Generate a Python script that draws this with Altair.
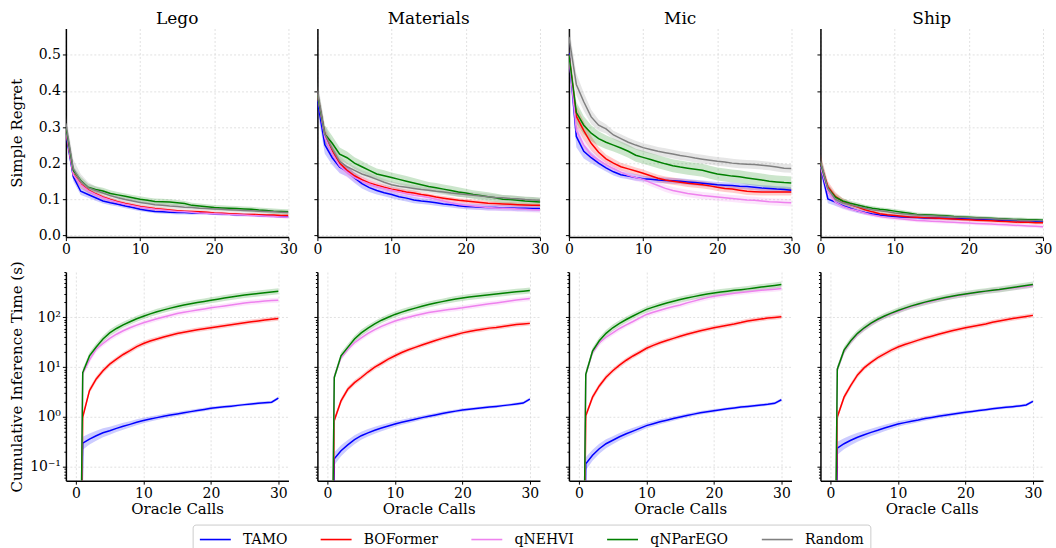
import altair as alt
import pandas as pd

METHODS = ["TAMO", "BOFormer", "qNEHVI", "qNParEGO", "Random"]
COLORS = ["#0000ff", "#ff0000", "#ee82ee", "#008000", "#808080"]
DATASETS = ["Lego", "Materials", "Mic", "Ship"]
CALLS = list(range(31))
X_TICKS = [0, 10, 20, 30]
REGRET_TICKS = [0.0, 0.1, 0.2, 0.3, 0.4, 0.5]
TIME_MAJOR = [0.1, 1, 10, 100]
TIME_MINOR = [0.06, 0.07, 0.08, 0.09, 0.2, 0.3, 0.4, 0.5, 0.6, 0.7, 0.8, 0.9,
              2, 3, 4, 5, 6, 7, 8, 9, 20, 30, 40, 50, 60, 70, 80, 90,
              200, 300, 400, 500, 600, 700, 800]

LEGO_TAMO = [0.284, 0.162, 0.122, 0.113, 0.104, 0.095, 0.090, 0.086, 0.081, 0.077, 0.072, 0.069, 0.066, 0.065, 0.064, 0.063, 0.063, 0.062, 0.062, 0.061, 0.060, 0.059, 0.058, 0.057, 0.057, 0.056, 0.055, 0.054, 0.053, 0.052, 0.051]
LEGO_BOFORMER = [0.290, 0.170, 0.142, 0.126, 0.115, 0.106, 0.099, 0.093, 0.088, 0.084, 0.080, 0.077, 0.074, 0.072, 0.070, 0.068, 0.067, 0.066, 0.065, 0.064, 0.062, 0.061, 0.060, 0.059, 0.058, 0.058, 0.057, 0.056, 0.056, 0.055, 0.055]
LEGO_QNEHVI = [0.292, 0.168, 0.140, 0.124, 0.113, 0.104, 0.097, 0.091, 0.086, 0.082, 0.078, 0.075, 0.072, 0.070, 0.068, 0.066, 0.065, 0.064, 0.062, 0.061, 0.060, 0.059, 0.058, 0.057, 0.056, 0.055, 0.054, 0.053, 0.052, 0.051, 0.050]
LEGO_QNPAREGO = [0.300, 0.180, 0.152, 0.133, 0.127, 0.123, 0.116, 0.112, 0.108, 0.104, 0.100, 0.097, 0.094, 0.093, 0.092, 0.090, 0.088, 0.083, 0.081, 0.079, 0.077, 0.076, 0.075, 0.074, 0.073, 0.072, 0.070, 0.069, 0.067, 0.066, 0.065]
LEGO_RANDOM = [0.310, 0.185, 0.150, 0.132, 0.124, 0.117, 0.110, 0.104, 0.099, 0.095, 0.091, 0.088, 0.085, 0.083, 0.081, 0.080, 0.078, 0.077, 0.075, 0.074, 0.073, 0.072, 0.071, 0.070, 0.069, 0.068, 0.067, 0.066, 0.065, 0.064, 0.063]
LEGO_TAMO_SD = [0.020, 0.012, 0.010, 0.009, 0.008, 0.007, 0.007, 0.006, 0.006, 0.006, 0.005, 0.005, 0.005, 0.005, 0.005, 0.005, 0.005, 0.005, 0.004, 0.004, 0.004, 0.004, 0.004, 0.004, 0.004, 0.004, 0.004, 0.004, 0.004, 0.004, 0.004]
LEGO_BOFORMER_SD = [0.015, 0.012, 0.010, 0.008, 0.007, 0.006, 0.006, 0.005, 0.005, 0.005, 0.005, 0.005, 0.005, 0.005, 0.004, 0.004, 0.004, 0.004, 0.004, 0.004, 0.004, 0.004, 0.004, 0.004, 0.004, 0.004, 0.004, 0.004, 0.004, 0.004, 0.004]
LEGO_QNEHVI_SD = [0.015, 0.012, 0.010, 0.008, 0.007, 0.006, 0.006, 0.005, 0.005, 0.005, 0.005, 0.005, 0.005, 0.005, 0.004, 0.004, 0.004, 0.004, 0.004, 0.004, 0.004, 0.004, 0.004, 0.004, 0.004, 0.004, 0.004, 0.004, 0.004, 0.004, 0.004]
LEGO_QNPAREGO_SD = [0.015, 0.012, 0.010, 0.010, 0.009, 0.009, 0.009, 0.008, 0.008, 0.008, 0.008, 0.008, 0.008, 0.008, 0.008, 0.008, 0.007, 0.007, 0.007, 0.007, 0.007, 0.007, 0.007, 0.007, 0.007, 0.007, 0.007, 0.007, 0.007, 0.007, 0.007]
LEGO_RANDOM_SD = [0.025, 0.025, 0.020, 0.015, 0.012, 0.010, 0.009, 0.008, 0.008, 0.008, 0.007, 0.007, 0.007, 0.007, 0.007, 0.007, 0.006, 0.006, 0.006, 0.006, 0.006, 0.006, 0.006, 0.006, 0.006, 0.006, 0.006, 0.006, 0.006, 0.006, 0.006]

MAT_TAMO = [0.373, 0.251, 0.215, 0.189, 0.178, 0.159, 0.143, 0.132, 0.124, 0.118, 0.113, 0.107, 0.103, 0.098, 0.095, 0.093, 0.090, 0.087, 0.085, 0.082, 0.080, 0.079, 0.078, 0.077, 0.077, 0.076, 0.076, 0.075, 0.075, 0.074, 0.074]
MAT_BOFORMER = [0.390, 0.280, 0.235, 0.200, 0.180, 0.165, 0.154, 0.145, 0.139, 0.133, 0.128, 0.124, 0.120, 0.117, 0.113, 0.110, 0.106, 0.103, 0.100, 0.097, 0.095, 0.093, 0.091, 0.089, 0.088, 0.087, 0.086, 0.085, 0.084, 0.083, 0.083]
MAT_QNEHVI = [0.390, 0.270, 0.225, 0.192, 0.175, 0.160, 0.150, 0.142, 0.135, 0.130, 0.125, 0.120, 0.115, 0.111, 0.108, 0.105, 0.100, 0.095, 0.090, 0.086, 0.083, 0.081, 0.079, 0.077, 0.076, 0.075, 0.074, 0.073, 0.072, 0.071, 0.070]
MAT_QNPAREGO = [0.390, 0.280, 0.255, 0.225, 0.215, 0.200, 0.190, 0.180, 0.170, 0.165, 0.160, 0.155, 0.150, 0.145, 0.140, 0.135, 0.132, 0.128, 0.124, 0.120, 0.117, 0.113, 0.110, 0.107, 0.104, 0.100, 0.099, 0.097, 0.095, 0.094, 0.092]
MAT_RANDOM = [0.400, 0.280, 0.240, 0.205, 0.190, 0.180, 0.170, 0.163, 0.155, 0.147, 0.140, 0.136, 0.133, 0.130, 0.127, 0.125, 0.122, 0.120, 0.117, 0.115, 0.113, 0.111, 0.109, 0.107, 0.105, 0.104, 0.102, 0.101, 0.099, 0.098, 0.097]
MAT_TAMO_SD = [0.030, 0.025, 0.020, 0.017, 0.015, 0.014, 0.013, 0.012, 0.011, 0.010, 0.010, 0.009, 0.009, 0.009, 0.008, 0.008, 0.008, 0.008, 0.008, 0.008, 0.008, 0.008, 0.008, 0.008, 0.008, 0.008, 0.008, 0.008, 0.008, 0.008, 0.008]
MAT_BOFORMER_SD = [0.020, 0.018, 0.015, 0.012, 0.010, 0.009, 0.008, 0.008, 0.007, 0.007, 0.007, 0.007, 0.007, 0.007, 0.006, 0.006, 0.006, 0.006, 0.006, 0.006, 0.006, 0.006, 0.006, 0.006, 0.006, 0.006, 0.006, 0.006, 0.006, 0.006, 0.006]
MAT_QNEHVI_SD = [0.030, 0.025, 0.020, 0.017, 0.015, 0.013, 0.012, 0.011, 0.010, 0.010, 0.009, 0.009, 0.009, 0.009, 0.008, 0.008, 0.008, 0.008, 0.008, 0.008, 0.008, 0.008, 0.008, 0.008, 0.008, 0.008, 0.008, 0.008, 0.008, 0.008, 0.008]
MAT_QNPAREGO_SD = [0.030, 0.025, 0.020, 0.018, 0.017, 0.016, 0.016, 0.015, 0.015, 0.015, 0.014, 0.014, 0.014, 0.014, 0.013, 0.013, 0.013, 0.013, 0.013, 0.013, 0.012, 0.012, 0.012, 0.012, 0.012, 0.012, 0.012, 0.012, 0.012, 0.012, 0.012]
MAT_RANDOM_SD = [0.030, 0.025, 0.020, 0.015, 0.012, 0.011, 0.010, 0.010, 0.009, 0.009, 0.009, 0.009, 0.009, 0.009, 0.008, 0.008, 0.008, 0.008, 0.008, 0.008, 0.008, 0.008, 0.008, 0.008, 0.008, 0.008, 0.008, 0.008, 0.008, 0.008, 0.008]

MIC_TAMO = [0.505, 0.274, 0.233, 0.215, 0.200, 0.187, 0.176, 0.168, 0.164, 0.160, 0.157, 0.155, 0.153, 0.152, 0.151, 0.150, 0.148, 0.146, 0.144, 0.142, 0.140, 0.139, 0.138, 0.136, 0.135, 0.133, 0.131, 0.130, 0.128, 0.127, 0.125]
MIC_BOFORMER = [0.500, 0.330, 0.290, 0.255, 0.230, 0.212, 0.200, 0.190, 0.184, 0.178, 0.172, 0.165, 0.158, 0.153, 0.150, 0.147, 0.144, 0.142, 0.140, 0.137, 0.133, 0.130, 0.128, 0.125, 0.122, 0.121, 0.120, 0.120, 0.120, 0.120, 0.120]
MIC_QNEHVI = [0.500, 0.290, 0.250, 0.222, 0.208, 0.196, 0.185, 0.175, 0.166, 0.160, 0.155, 0.146, 0.138, 0.130, 0.124, 0.120, 0.116, 0.113, 0.110, 0.108, 0.106, 0.104, 0.102, 0.100, 0.098, 0.097, 0.095, 0.093, 0.092, 0.091, 0.090]
MIC_QNPAREGO = [0.500, 0.340, 0.305, 0.283, 0.268, 0.258, 0.250, 0.242, 0.233, 0.222, 0.216, 0.210, 0.204, 0.198, 0.193, 0.189, 0.186, 0.183, 0.180, 0.175, 0.170, 0.167, 0.164, 0.162, 0.159, 0.156, 0.153, 0.150, 0.148, 0.146, 0.145]
MIC_RANDOM = [0.550, 0.418, 0.370, 0.328, 0.305, 0.295, 0.278, 0.268, 0.258, 0.250, 0.243, 0.238, 0.233, 0.229, 0.225, 0.221, 0.218, 0.214, 0.211, 0.208, 0.205, 0.203, 0.200, 0.198, 0.197, 0.196, 0.194, 0.192, 0.189, 0.186, 0.185]
MIC_TAMO_SD = [0.040, 0.030, 0.020, 0.015, 0.012, 0.010, 0.010, 0.009, 0.009, 0.009, 0.008, 0.008, 0.008, 0.008, 0.008, 0.008, 0.008, 0.008, 0.008, 0.008, 0.008, 0.008, 0.008, 0.008, 0.008, 0.008, 0.008, 0.008, 0.008, 0.008, 0.008]
MIC_BOFORMER_SD = [0.030, 0.030, 0.025, 0.020, 0.015, 0.012, 0.012, 0.011, 0.011, 0.010, 0.010, 0.010, 0.010, 0.010, 0.010, 0.010, 0.010, 0.010, 0.010, 0.010, 0.010, 0.010, 0.010, 0.010, 0.010, 0.010, 0.010, 0.010, 0.010, 0.010, 0.010]
MIC_QNEHVI_SD = [0.020, 0.020, 0.018, 0.015, 0.013, 0.012, 0.011, 0.010, 0.010, 0.010, 0.010, 0.010, 0.010, 0.010, 0.010, 0.010, 0.010, 0.010, 0.010, 0.010, 0.010, 0.010, 0.010, 0.010, 0.010, 0.010, 0.010, 0.010, 0.010, 0.010, 0.010]
MIC_QNPAREGO_SD = [0.030, 0.030, 0.025, 0.022, 0.020, 0.019, 0.018, 0.018, 0.018, 0.018, 0.018, 0.018, 0.018, 0.018, 0.018, 0.018, 0.018, 0.018, 0.018, 0.018, 0.018, 0.018, 0.018, 0.018, 0.018, 0.018, 0.018, 0.018, 0.018, 0.018, 0.018]
MIC_RANDOM_SD = [0.030, 0.030, 0.025, 0.020, 0.015, 0.013, 0.012, 0.012, 0.012, 0.012, 0.012, 0.012, 0.012, 0.012, 0.012, 0.012, 0.012, 0.012, 0.012, 0.012, 0.012, 0.012, 0.012, 0.012, 0.012, 0.012, 0.012, 0.012, 0.012, 0.012, 0.012]

SHIP_TAMO = [0.192, 0.101, 0.092, 0.082, 0.075, 0.068, 0.063, 0.059, 0.056, 0.054, 0.052, 0.051, 0.050, 0.049, 0.048, 0.048, 0.047, 0.047, 0.046, 0.046, 0.045, 0.044, 0.044, 0.043, 0.042, 0.042, 0.041, 0.040, 0.040, 0.039, 0.039]
SHIP_BOFORMER = [0.200, 0.135, 0.108, 0.094, 0.085, 0.078, 0.071, 0.065, 0.060, 0.057, 0.055, 0.053, 0.051, 0.050, 0.049, 0.048, 0.047, 0.046, 0.045, 0.044, 0.043, 0.042, 0.041, 0.040, 0.039, 0.038, 0.037, 0.036, 0.036, 0.035, 0.035]
SHIP_QNEHVI = [0.190, 0.120, 0.092, 0.080, 0.073, 0.068, 0.062, 0.056, 0.052, 0.049, 0.047, 0.045, 0.043, 0.041, 0.040, 0.039, 0.038, 0.037, 0.036, 0.035, 0.034, 0.033, 0.032, 0.031, 0.030, 0.029, 0.028, 0.027, 0.026, 0.025, 0.024]
SHIP_QNPAREGO = [0.200, 0.130, 0.106, 0.095, 0.089, 0.084, 0.079, 0.075, 0.072, 0.070, 0.067, 0.064, 0.061, 0.058, 0.057, 0.056, 0.055, 0.054, 0.052, 0.051, 0.050, 0.049, 0.048, 0.047, 0.046, 0.045, 0.044, 0.044, 0.043, 0.043, 0.042]
SHIP_RANDOM = [0.205, 0.130, 0.100, 0.090, 0.085, 0.080, 0.075, 0.071, 0.068, 0.065, 0.062, 0.060, 0.058, 0.056, 0.055, 0.054, 0.053, 0.052, 0.051, 0.050, 0.049, 0.048, 0.047, 0.046, 0.045, 0.044, 0.043, 0.042, 0.041, 0.041, 0.040]
SHIP_TAMO_SD = [0.020, 0.012, 0.010, 0.008, 0.007, 0.006, 0.006, 0.005, 0.005, 0.005, 0.005, 0.005, 0.005, 0.005, 0.005, 0.005, 0.005, 0.005, 0.005, 0.005, 0.005, 0.005, 0.005, 0.005, 0.005, 0.005, 0.005, 0.005, 0.005, 0.005, 0.005]
SHIP_BOFORMER_SD = [0.025, 0.015, 0.012, 0.009, 0.008, 0.007, 0.006, 0.005, 0.005, 0.005, 0.005, 0.005, 0.005, 0.005, 0.005, 0.005, 0.005, 0.005, 0.005, 0.005, 0.005, 0.005, 0.005, 0.005, 0.005, 0.005, 0.005, 0.005, 0.005, 0.005, 0.005]
SHIP_QNEHVI_SD = [0.020, 0.012, 0.010, 0.008, 0.007, 0.006, 0.006, 0.005, 0.005, 0.005, 0.005, 0.005, 0.005, 0.005, 0.005, 0.005, 0.005, 0.005, 0.005, 0.005, 0.005, 0.005, 0.005, 0.005, 0.005, 0.005, 0.005, 0.005, 0.005, 0.005, 0.005]
SHIP_QNPAREGO_SD = [0.020, 0.012, 0.010, 0.008, 0.007, 0.007, 0.006, 0.006, 0.006, 0.006, 0.006, 0.006, 0.006, 0.005, 0.005, 0.005, 0.005, 0.005, 0.005, 0.005, 0.005, 0.005, 0.005, 0.005, 0.005, 0.005, 0.005, 0.005, 0.005, 0.005, 0.005]
SHIP_RANDOM_SD = [0.020, 0.012, 0.010, 0.008, 0.007, 0.006, 0.006, 0.005, 0.005, 0.005, 0.005, 0.005, 0.005, 0.005, 0.005, 0.005, 0.005, 0.005, 0.005, 0.005, 0.005, 0.005, 0.005, 0.005, 0.005, 0.005, 0.005, 0.005, 0.005, 0.005, 0.005]

LEGO_T_TAMO = [0, 0.297, 0.36, 0.42, 0.48, 0.53, 0.59, 0.65, 0.71, 0.78, 0.85, 0.91, 0.97, 1.03, 1.09, 1.15, 1.22, 1.28, 1.35, 1.42, 1.49, 1.55, 1.60, 1.65, 1.71, 1.77, 1.83, 1.88, 1.93, 1.98, 2.40]
LEGO_T_BOFORMER = [0, 1.0, 3.4, 5.8, 8.5, 11.5, 14.5, 18, 21.5, 26, 30, 33.5, 37, 40.5, 44, 47.5, 50.5, 53.5, 56.5, 59, 62, 65, 68, 71, 74.5, 78, 81.5, 85, 88.5, 92, 95]
LEGO_T_QNEHVI = [0, 7.5, 14, 23, 30, 38, 46, 54, 62, 70, 78, 86, 94, 102, 111, 120, 127, 134, 141, 148, 156, 163, 170, 178, 186, 195, 201, 207, 213, 218, 222]
LEGO_T_QNPAREGO = [0, 7.8, 16.9, 25.5, 37, 49, 60, 71, 82, 94, 106, 118, 130, 142, 154, 166, 177, 188, 199, 210, 221, 233, 245, 257, 269, 281, 292, 303, 314, 325, 336]

MAT_T_TAMO = [0, 0.145, 0.21, 0.275, 0.35, 0.42, 0.48, 0.54, 0.60, 0.66, 0.72, 0.78, 0.84, 0.90, 0.97, 1.03, 1.10, 1.17, 1.24, 1.31, 1.38, 1.43, 1.48, 1.53, 1.58, 1.63, 1.69, 1.75, 1.82, 1.90, 2.29]
MAT_T_BOFORMER = [0, 0.85, 2.1, 3.6, 4.9, 6.2, 8.0, 10.0, 12.0, 14.5, 17.0, 19.7, 22.4, 25.0, 28.0, 31.0, 34.5, 38.0, 41.5, 45.0, 49.0, 52, 55, 58, 61, 63, 66, 69, 72, 74, 76]
MAT_T_QNEHVI = [0, 6.5, 15.6, 23, 31, 39, 48, 57, 66, 75, 85, 93, 101, 109, 117, 126, 132, 138, 144, 150, 156, 164, 172, 180, 188, 196, 205, 214, 223, 232, 240]
MAT_T_QNPAREGO = [0, 6.2, 17, 25, 37, 49, 61, 74, 88, 101, 115, 128, 141, 154, 168, 182, 195, 208, 221, 234, 247, 257, 267, 276, 285, 295, 306, 317, 327, 337, 347]

MIC_T_TAMO = [0, 0.115, 0.17, 0.23, 0.29, 0.34, 0.40, 0.46, 0.52, 0.59, 0.67, 0.73, 0.80, 0.86, 0.93, 1.0, 1.07, 1.14, 1.21, 1.27, 1.34, 1.40, 1.46, 1.52, 1.58, 1.63, 1.68, 1.74, 1.80, 1.88, 2.22]
MIC_T_BOFORMER = [0, 1.06, 2.5, 4.2, 6.3, 8.5, 11.0, 13.8, 16.8, 20, 24, 27.5, 31, 34.5, 38, 42, 46, 50, 54, 58, 62, 66, 70, 74, 79, 85, 89, 93, 97, 100, 103]
MIC_T_QNEHVI = [0, 7.2, 20, 31, 40, 49, 60, 71, 83, 98, 115, 127, 140, 153, 166, 178, 196, 213, 232, 250, 267, 280, 293, 306, 318, 330, 340, 350, 360, 370, 380]
MIC_T_QNPAREGO = [0, 7.2, 21, 34, 48, 62, 76, 91, 107, 125, 145, 161, 178, 195, 212, 229, 246, 262, 279, 295, 311, 324, 337, 350, 362, 375, 391, 407, 423, 440, 457]

SHIP_T_TAMO = [0, 0.236, 0.29, 0.34, 0.39, 0.44, 0.49, 0.54, 0.60, 0.66, 0.72, 0.77, 0.82, 0.87, 0.93, 0.98, 1.03, 1.08, 1.13, 1.19, 1.24, 1.29, 1.35, 1.40, 1.46, 1.51, 1.56, 1.61, 1.67, 1.74, 2.06]
SHIP_T_BOFORMER = [0, 1.0, 2.5, 4.3, 7.0, 9.8, 12.5, 15.6, 18.5, 22, 25.5, 28.5, 31.5, 35, 38.5, 42, 46, 50, 54, 58, 62, 66, 70, 74, 80, 85, 90, 95, 100, 105, 110]
SHIP_T_QNEHVI = [0, 9.1, 21, 33, 46, 60, 74, 89, 104, 118, 133, 149, 165, 181, 197, 212, 228, 244, 260, 275, 290, 305, 320, 334, 348, 360, 375, 390, 405, 420, 436]
SHIP_T_QNPAREGO = [0, 9.1, 22, 34, 48, 62, 77, 92, 107, 122, 138, 154, 171, 187, 203, 219, 235, 251, 267, 282, 297, 311, 325, 338, 351, 363, 381, 400, 419, 438, 457]

T_TAMO_SD = [0, 0.13, 0.11, 0.10, 0.09, 0.08, 0.075, 0.07, 0.065, 0.06, 0.055, 0.05, 0.05, 0.045, 0.045, 0.04, 0.04, 0.04, 0.035, 0.035, 0.035, 0.03, 0.03, 0.03, 0.03, 0.03, 0.03, 0.03, 0.03, 0.03, 0.03]
T_BOFORMER_SD = [0, 0.06, 0.06, 0.055, 0.055, 0.05, 0.05, 0.05, 0.05, 0.05, 0.05, 0.05, 0.045, 0.045, 0.045, 0.045, 0.045, 0.045, 0.045, 0.045, 0.045, 0.045, 0.045, 0.045, 0.045, 0.045, 0.045, 0.045, 0.045, 0.045, 0.045]
T_QNEHVI_SD = [0, 0.06, 0.06, 0.06, 0.055, 0.055, 0.055, 0.05, 0.05, 0.05, 0.05, 0.05, 0.05, 0.05, 0.05, 0.05, 0.05, 0.05, 0.05, 0.05, 0.05, 0.05, 0.05, 0.05, 0.05, 0.05, 0.05, 0.05, 0.05, 0.05, 0.05]
T_QNPAREGO_SD = [0, 0.07, 0.07, 0.07, 0.065, 0.065, 0.065, 0.06, 0.06, 0.06, 0.06, 0.06, 0.06, 0.06, 0.06, 0.06, 0.06, 0.06, 0.06, 0.06, 0.06, 0.06, 0.06, 0.06, 0.06, 0.06, 0.06, 0.06, 0.06, 0.06, 0.06]

REGRET = {
    "Lego": [(LEGO_TAMO, LEGO_TAMO_SD), (LEGO_BOFORMER, LEGO_BOFORMER_SD), (LEGO_QNEHVI, LEGO_QNEHVI_SD), (LEGO_QNPAREGO, LEGO_QNPAREGO_SD), (LEGO_RANDOM, LEGO_RANDOM_SD)],
    "Materials": [(MAT_TAMO, MAT_TAMO_SD), (MAT_BOFORMER, MAT_BOFORMER_SD), (MAT_QNEHVI, MAT_QNEHVI_SD), (MAT_QNPAREGO, MAT_QNPAREGO_SD), (MAT_RANDOM, MAT_RANDOM_SD)],
    "Mic": [(MIC_TAMO, MIC_TAMO_SD), (MIC_BOFORMER, MIC_BOFORMER_SD), (MIC_QNEHVI, MIC_QNEHVI_SD), (MIC_QNPAREGO, MIC_QNPAREGO_SD), (MIC_RANDOM, MIC_RANDOM_SD)],
    "Ship": [(SHIP_TAMO, SHIP_TAMO_SD), (SHIP_BOFORMER, SHIP_BOFORMER_SD), (SHIP_QNEHVI, SHIP_QNEHVI_SD), (SHIP_QNPAREGO, SHIP_QNPAREGO_SD), (SHIP_RANDOM, SHIP_RANDOM_SD)],
}
TIME_SD = [T_TAMO_SD, T_BOFORMER_SD, T_QNEHVI_SD, T_QNPAREGO_SD]
TIME = {
    "Lego": [LEGO_T_TAMO, LEGO_T_BOFORMER, LEGO_T_QNEHVI, LEGO_T_QNPAREGO],
    "Materials": [MAT_T_TAMO, MAT_T_BOFORMER, MAT_T_QNEHVI, MAT_T_QNPAREGO],
    "Mic": [MIC_T_TAMO, MIC_T_BOFORMER, MIC_T_QNEHVI, MIC_T_QNPAREGO],
    "Ship": [SHIP_T_TAMO, SHIP_T_BOFORMER, SHIP_T_QNEHVI, SHIP_T_QNPAREGO],
}

FLOOR = 1e-12  # non-positive values are clipped on the log axis (as matplotlib does)

FONT = "DejaVu Serif"
PANEL_W, PANEL_H = 223, 209
MAJOR_TEST = "indexof([0.1, 1, 10, 100], datum.value) >= 0"

color_scale = alt.Scale(domain=METHODS, range=COLORS)
# same mapping, listed in reverse so that the (hidden) band legend is not merged with the line legend
fill_scale = alt.Scale(domain=METHODS[::-1], range=COLORS[::-1])
legend = alt.Legend(
    orient="none", legendX=127, legendY=497, direction="horizontal",
    symbolType="M-1,0H3", symbolSize=240, symbolStrokeWidth=1.6, labelOffset=26.5,
    columnPadding=30, padding=6, strokeColor="#cccccc", cornerRadius=3, fillColor="white",
    labelFont=FONT, labelFontSize=14, labelColor="black",
)


def regret_panel(ds, first):
    rows = []
    for m, (vals, sds) in zip(METHODS, REGRET[ds]):
        for x, v, s in zip(CALLS, vals, sds):
            rows.append({"method": m, "x": x, "y": v, "lo": v - s, "hi": v + s})
    df = pd.DataFrame(rows)
    xenc = alt.X("x:Q", scale=alt.Scale(domain=[0, 30], nice=False, zero=False),
                 axis=alt.Axis(values=X_TICKS, title="", labelFlush=False, format="d"))
    yscale = alt.Scale(domain=[-0.005, 0.573], nice=False, zero=False)
    yaxis = alt.Axis(values=REGRET_TICKS, format=".1f", labels=first, labelFlush=False,
                     title="Simple Regret" if first else "", titleX=-44.5,
                     titleBaseline="alphabetic")
    band = alt.Chart(df).mark_area(opacity=0.2, clip=True).encode(
        x=xenc, y=alt.Y("lo:Q", scale=yscale, axis=yaxis), y2="hi:Q",
        fill=alt.Fill("method:N", scale=fill_scale, legend=None),
    )
    line = alt.Chart(df).mark_line(strokeWidth=1.5, clip=True).encode(
        x=xenc, y=alt.Y("y:Q", scale=yscale, axis=yaxis),
        color=alt.Color("method:N", scale=color_scale, legend=legend, sort=METHODS, title=""),
    )
    return alt.layer(band, line).properties(
        width=PANEL_W, height=PANEL_H,
        title=alt.TitleParams(ds, font=FONT, fontSize=17, fontWeight="normal", color="black",
                              offset=1, anchor="middle"),
    )


def time_panel(ds, first):
    rows = []
    for m, vals, sds in zip(METHODS[:4], TIME[ds], TIME_SD):
        for x, v, s in zip(CALLS, vals, sds):
            v = max(v, FLOOR)
            rows.append({"method": m, "x": x, "y": v, "lo": max(v / 10 ** s, FLOOR), "hi": max(v * 10 ** s, FLOOR)})
    df = pd.DataFrame(rows)
    xenc = alt.X("x:Q", scale=alt.Scale(domain=[-1.5, 31.5], nice=False, zero=False),
                 axis=alt.Axis(values=X_TICKS, title="Oracle Calls", labelFlush=False, format="d",
                               titlePadding=1))
    yscale = alt.Scale(type="log", domain=[0.0525, 817], nice=False)
    label_expr = ("datum.value == 0.1 ? '10\u207b\u00b9' : datum.value == 1 ? '10\u2070' : "
                  "datum.value == 10 ? '10\u00b9' : datum.value == 100 ? '10\u00b2' : ''")
    yaxis = alt.Axis(values=TIME_MAJOR + TIME_MINOR, labelExpr=label_expr, labels=first,
                     labelOverlap=False, labelFlush=False,
                     tickSize={"condition": {"test": MAJOR_TEST, "value": 3.5}, "value": 2},
                     gridOpacity={"condition": {"test": MAJOR_TEST, "value": 1}, "value": 0},
                     title="Cumulative Inference Time (s)" if first else "", titleX=-44.5,
                     titleBaseline="alphabetic")
    band = alt.Chart(df).mark_area(opacity=0.2, clip=True).encode(
        x=xenc, y=alt.Y("lo:Q", scale=yscale, axis=yaxis), y2="hi:Q",
        fill=alt.Fill("method:N", scale=fill_scale, legend=None),
    )
    line = alt.Chart(df).mark_line(strokeWidth=1.5, clip=True).encode(
        x=xenc, y=alt.Y("y:Q", scale=yscale, axis=yaxis),
        color=alt.Color("method:N", scale=color_scale, legend=legend, sort=METHODS, title=""),
    )
    return alt.layer(band, line).properties(width=PANEL_W, height=PANEL_H)


panels = [regret_panel(ds, i == 0) for i, ds in enumerate(DATASETS)] + \
         [time_panel(ds, i == 0) for i, ds in enumerate(DATASETS)]

chart = alt.concat(*panels, columns=4, spacing={"row": 35, "column": 29}, bounds="flush").resolve_scale(
    x="independent", y="independent", color="shared", fill="shared"
).resolve_legend(color="shared").properties(
    padding={"left": 9, "top": 9, "right": 4, "bottom": 40}
).configure_view(stroke=None).configure_axis(
    domainColor="black", domainWidth=1.5, tickColor="black", tickSize=3.5, tickWidth=1,
    labelFont=FONT, labelFontSize=14, labelColor="black", labelPadding=2,
    titleFont=FONT, titleFontSize=15, titleFontWeight="normal", titleColor="black",
    gridColor="#d9d9d9", gridDash=[2, 2], gridWidth=0.8,
)

chart.save("out.html", embed_options={"renderer": "svg", "actions": False})
